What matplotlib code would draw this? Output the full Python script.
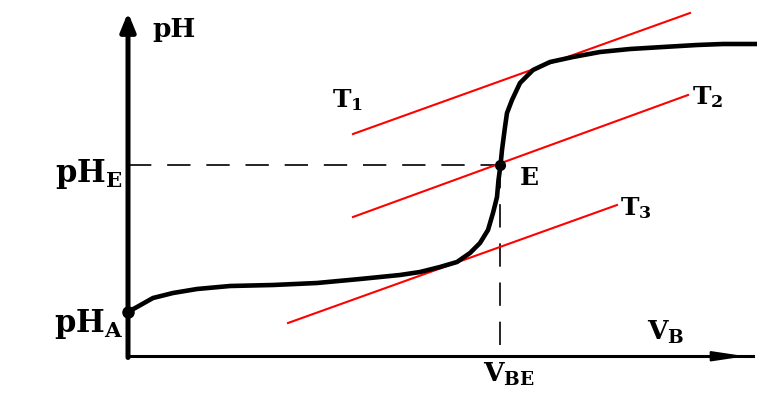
import matplotlib.pyplot as plt

plt.rcParams['mathtext.fontset'] = 'dejavuserif'
plt.rcParams['font.family'] = 'DejaVu Serif'

# titration curve: added base volume vs pH
vol = [0, 0.36, 1.0, 1.8, 2.76, 4.08, 5.8, 7.56, 9.28, 10.88, 11.68, 12.48,
       13.16, 13.68, 14.08, 14.4, 14.6, 14.76, 14.82, 14.9, 14.96, 15.08,
       15.16, 15.36, 15.68, 16.2, 16.88, 17.8, 18.88, 20.08, 21.4, 22.76,
       23.8, 25.2]
ph = [1.72, 1.92, 2.28, 2.48, 2.64, 2.76, 2.8, 2.88, 3.04, 3.2, 3.32, 3.52,
      3.72, 4.08, 4.48, 5.0, 5.68, 6.32, 7.0, 7.6, 8.2, 9.12,
      9.68, 10.2, 10.88, 11.4, 11.72, 11.92, 12.12, 12.24, 12.32, 12.4,
      12.44, 12.44]

# equivalence point
v_eq = 14.9
ph_eq = 7.6
ph_start = 1.72

# parallel tangents T1, T2, T3
tan_idx = ['1', '2', '3']
tan_x0 = [9.0, 9.0, 6.4]
tan_x1 = [22.48, 22.4, 19.56]
tan_y0 = [8.84, 5.52, 1.28]
tan_y1 = [13.68, 10.4, 6.0]
tan_lab_x = [8.16, 22.56, 19.68]
tan_lab_y = [9.9, 10.05, 5.6]

fig = plt.figure(figsize=(7.57, 3.94), dpi=100)
ax = fig.add_axes([0, 0, 1, 1])
ax.set_xlim(-5.12, 25.16)
ax.set_ylim(-1.56, 14.2)
ax.axis('off')

# axes with arrows
ax.annotate('', xy=(0, 13.7), xytext=(0, -0.1),
            arrowprops=dict(arrowstyle='-|>,head_length=1.1,head_width=0.45',
                            lw=3.6, color='black', shrinkA=0, shrinkB=0,
                            mutation_scale=10))
ax.plot([0, 25.0], [-0.05, -0.05], color='black', lw=2.2)
ax.annotate('', xy=(24.7, -0.05), xytext=(23.0, -0.05),
            arrowprops=dict(arrowstyle='-|>,head_length=2.0,head_width=0.3',
                            lw=1.5, color='black', shrinkA=0, shrinkB=0,
                            mutation_scale=10))

# dashed guides to the equivalence point
ax.plot([0, v_eq], [ph_eq, ph_eq], color='black', lw=1.2, ls=(0, (14, 9.5)))
ax.plot([v_eq, v_eq], [ph_eq, 0], color='black', lw=1.2, ls=(0, (14, 9.5)))

# tangents
for i, x0, x1, y0, y1, lx, ly in zip(tan_idx, tan_x0, tan_x1, tan_y0,
                                     tan_y1, tan_lab_x, tan_lab_y):
    ax.plot([x0, x1], [y0, y1], color='red', lw=1.5)
    ax.text(lx, ly, r'$\mathbf{T}_{\mathbf{%s}}$' % i, fontsize=18,
            ha='left', va='baseline')

# curve
ax.plot(vol, ph, color='black', lw=3.3, solid_joinstyle='round',
        solid_capstyle='butt', zorder=3)
ax.plot([0], [ph_start], 'o', color='black', ms=8, zorder=4)
ax.plot([v_eq], [ph_eq], 'o', color='black', ms=7, zorder=4)

# labels
ax.text(0.96, 12.72, 'pH', fontsize=19, fontweight='bold', ha='left', va='baseline')
ax.text(-0.2, 6.92, r'$\mathbf{pH}_{\mathbf{E}}$', fontsize=22, ha='right', va='baseline')
ax.text(-0.2, 0.92, r'$\mathbf{pH}_{\mathbf{A}}$', fontsize=22, ha='right', va='baseline')
ax.text(15.68, 6.8, 'E', fontsize=18, fontweight='bold', ha='left', va='baseline')
ax.text(20.76, 0.6, r'$\mathbf{V}_{\mathbf{B}}$', fontsize=19, ha='left', va='baseline')
ax.text(14.2, -1.08, r'$\mathbf{V}_{\mathbf{BE}}$', fontsize=19, ha='left', va='baseline')

fig.savefig('out.png', dpi=100)
